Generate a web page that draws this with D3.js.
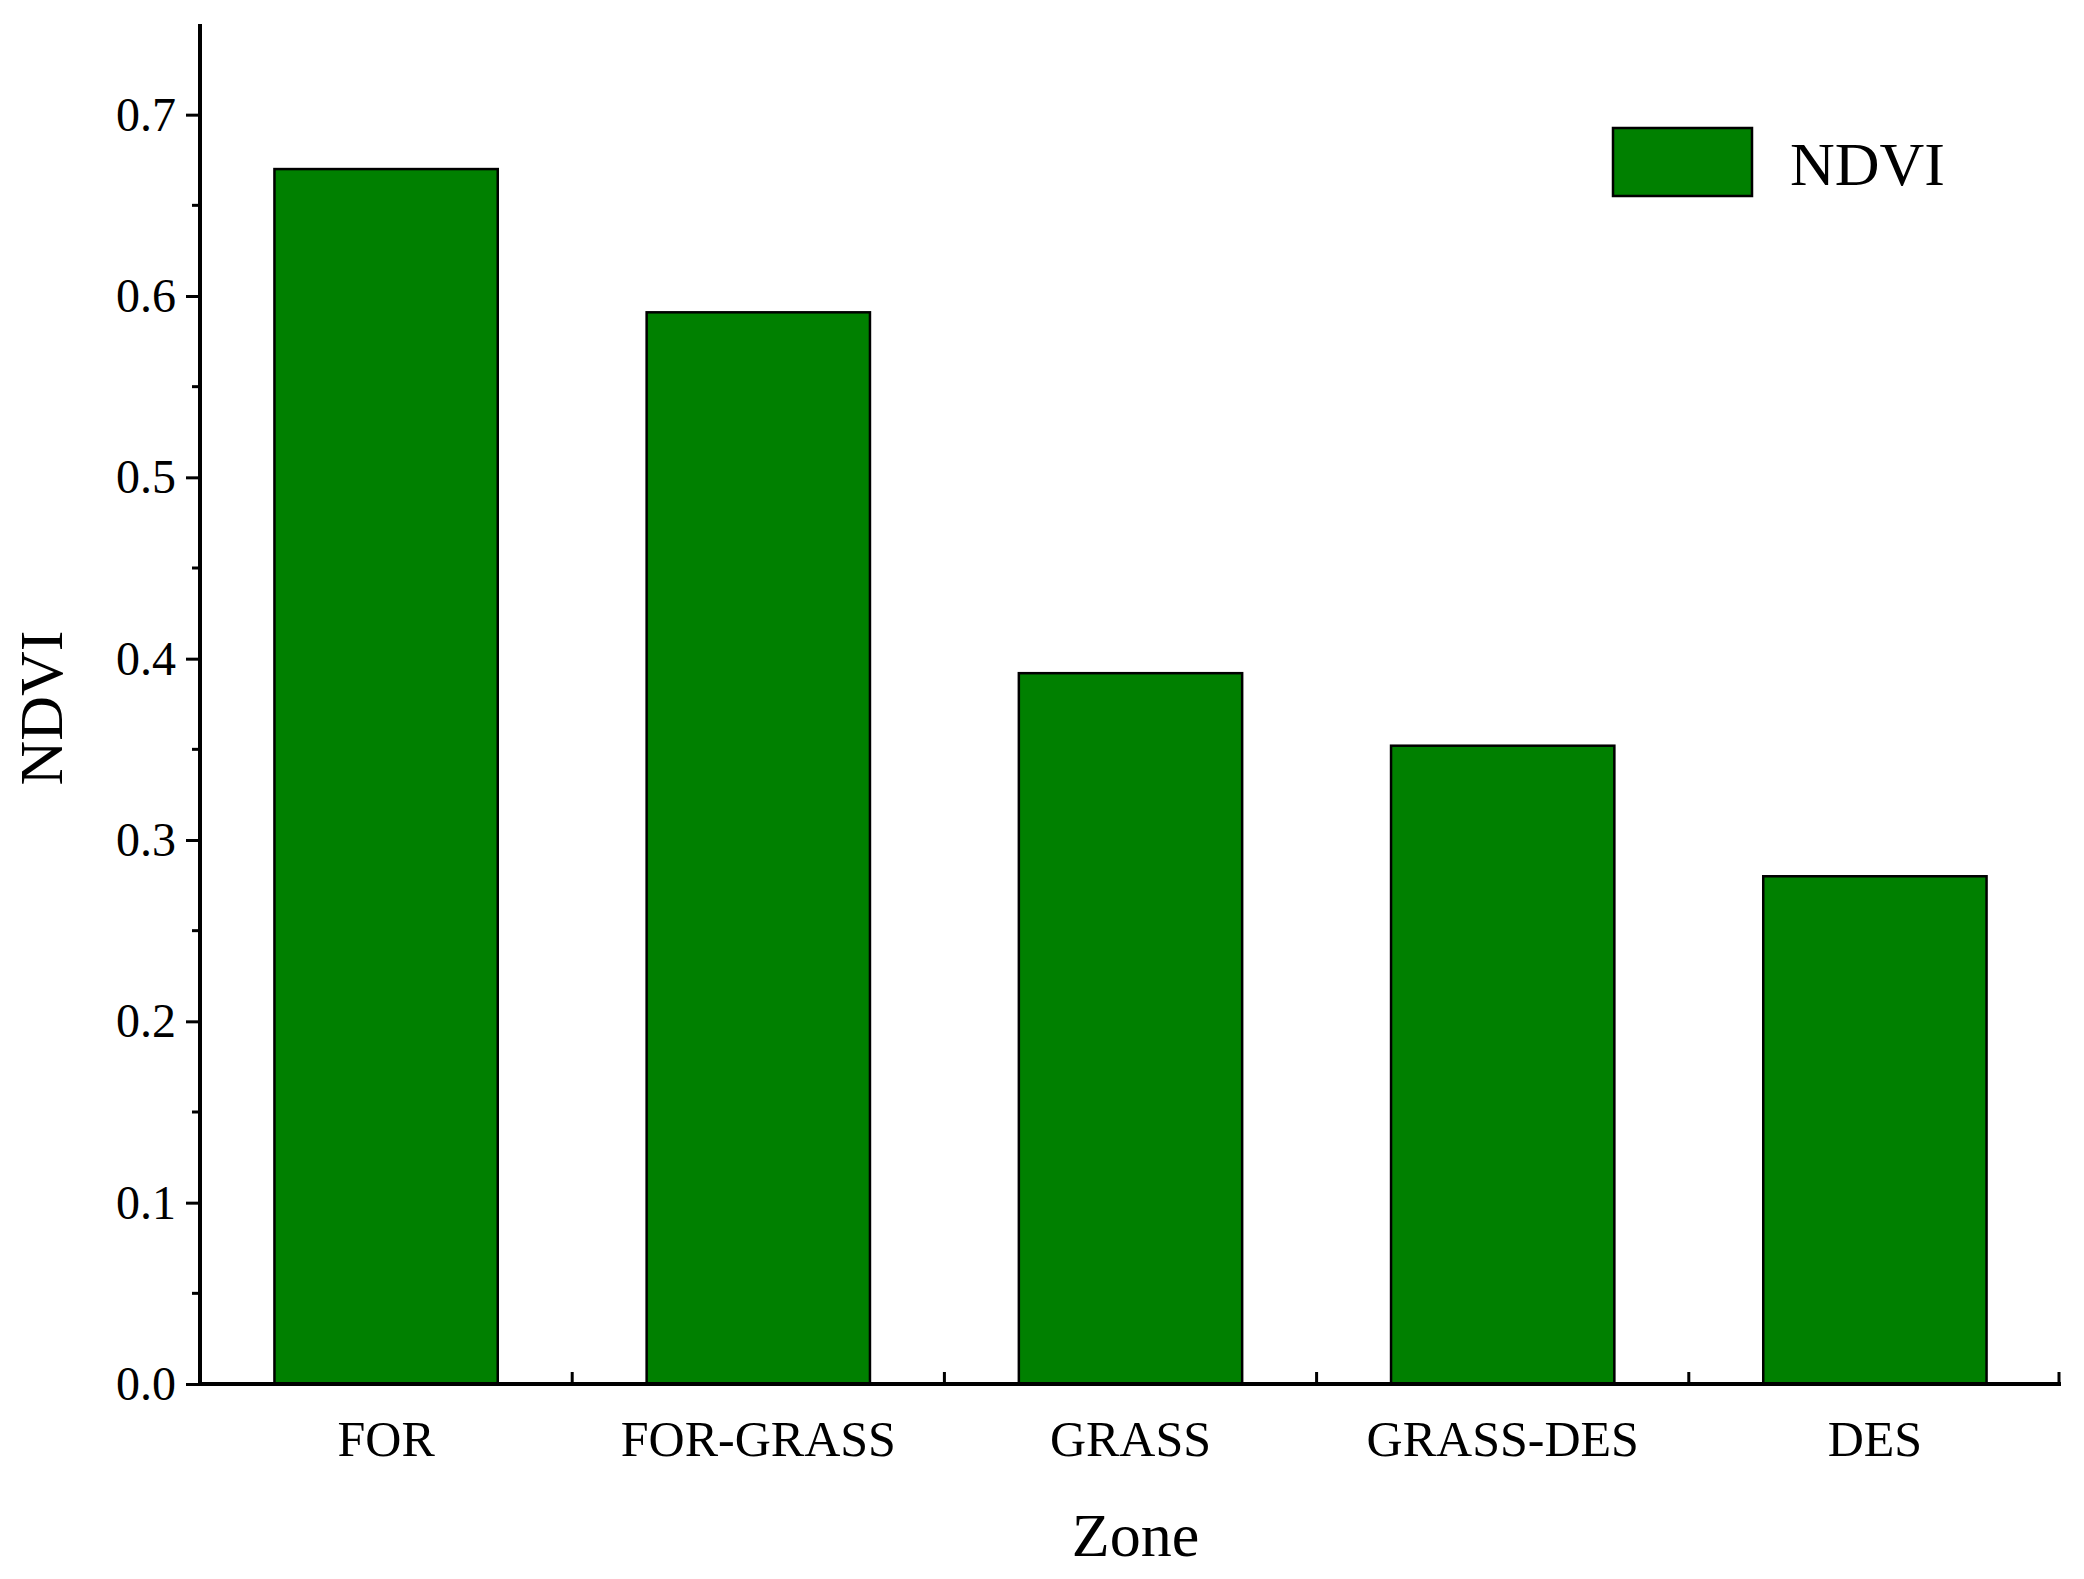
<!DOCTYPE html><html><head><script src="https://d3js.org/d3.v7.min.js"></script>
<style>body{margin:0;background:#fff}</style></head><body><script>
const categories=["FOR","FOR-GRASS","GRASS","GRASS-DES","DES"];
const values=[0.67,0.591,0.392,0.352,0.28];
const yTicks=[0,0.1,0.2,0.3,0.4,0.5,0.6,0.7];
const W=2084,H=1579,L=200,R=2061,T=24,B=1384;
const svg=d3.select("body").append("svg").attr("width",W).attr("height",H).style("font-family","'Liberation Serif',serif");
const x=d3.scaleBand().domain(categories).range([L,R]).paddingInner(0.4).paddingOuter(0.2);
const xb=d3.scaleBand().domain(categories).range([L,R]);
const y=d3.scaleLinear().domain([0,0.75]).range([B,T]);
svg.selectAll("rect.bar").data(values).join("rect").attr("class","bar")
 .attr("x",(d,i)=>x(categories[i])).attr("width",x.bandwidth()).attr("y",d=>y(d)).attr("height",d=>B-y(d))
 .attr("fill","#008000").attr("stroke","#000").attr("stroke-width",2.5);
// y axis
const ya=svg.append("g").attr("transform",`translate(${L},0)`).call(d3.axisLeft(y).tickValues(yTicks).tickFormat(d3.format(".1f")).tickSize(14).tickPadding(10));
ya.append("g").call(g=>{});
const minor=d3.range(0.05,0.75,0.1);
svg.append("g").selectAll("line").data(minor).join("line").attr("x1",L-8).attr("x2",L).attr("y1",d=>y(d)).attr("y2",d=>y(d)).attr("stroke","#000").attr("stroke-width",3);
ya.selectAll("path").attr("d",`M0,${T}V${B}`).attr("stroke-width",4);
ya.selectAll("line").attr("stroke-width",3);
ya.selectAll("text").attr("font-size",48).attr("font-family","'Liberation Serif',serif");
// x axis
const xa=svg.append("g").attr("transform",`translate(0,${B})`).call(d3.axisBottom(x).tickSize(0).tickPadding(36));
xa.selectAll("path").attr("d",`M${L-2},0H${R}`).attr("stroke-width",4);
xa.selectAll("text").attr("font-size",50).attr("font-family","'Liberation Serif',serif");
svg.append("g").selectAll("line").data(categories.slice(1).map(c=>xb(c)).concat([R-2])).join("line")
 .attr("x1",d=>d).attr("x2",d=>d).attr("y1",B).attr("y2",B-12).attr("stroke","#000").attr("stroke-width",3);
svg.append("text").attr("x",(L+R)/2+5).attr("y",1556).attr("text-anchor","middle").attr("font-size",62).text("Zone");
svg.append("text").attr("transform","translate(62,708) rotate(-90)").attr("text-anchor","middle").attr("font-size",62).text("NDVI");
svg.append("rect").attr("x",1613).attr("y",128).attr("width",139).attr("height",68).attr("fill","#008000").attr("stroke","#000").attr("stroke-width",2.5);
svg.append("text").attr("x",1790).attr("y",185).attr("font-size",62).text("NDVI");
</script></body></html>
